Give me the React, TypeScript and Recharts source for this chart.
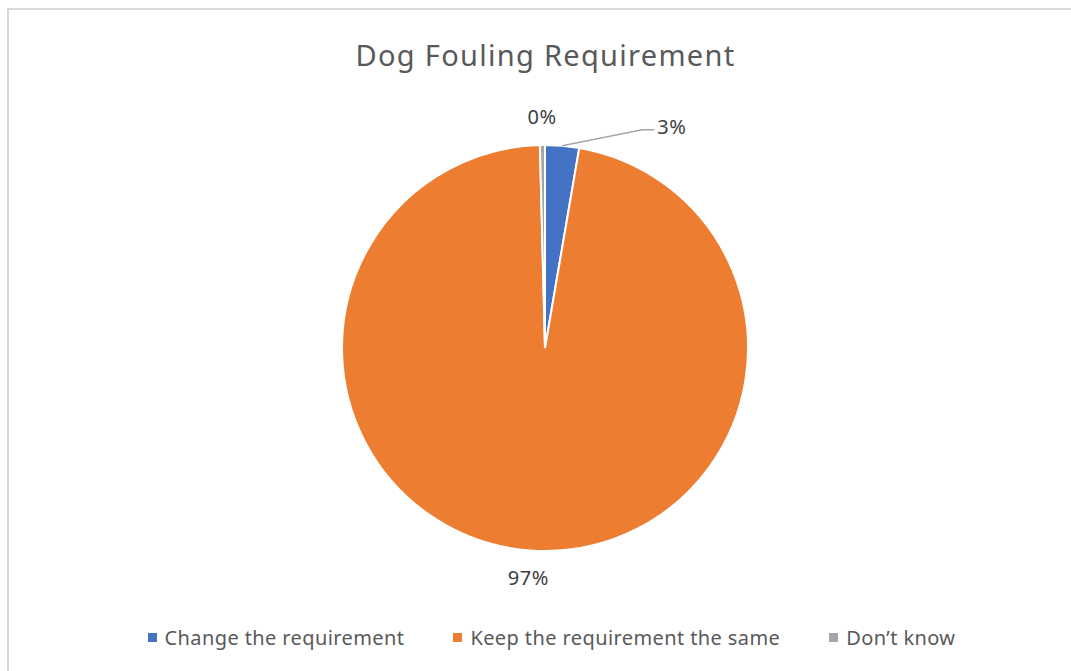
import { PieChart, Pie, Cell, Legend } from "recharts";

const categories = ["Change the requirement", "Keep the requirement the same", "Don’t know"];
const shares = [2.7, 96.9, 0.4];
const labels = ["3%", "97%", "0%"];
const COLORS = ["#4472C4", "#ED7D31", "#A5A5A5"];

const data = categories.map((name, i) => ({ name, value: shares[i], label: labels[i] }));

const FONT = "'Noto Sans', 'Open Sans', sans-serif";
const RAD = Math.PI / 180;

interface LabelProps {
  cx?: number;
  cy?: number;
  midAngle?: number;
  outerRadius?: number;
  index?: number;
}

function SliceLabel({ cx = 0, cy = 0, midAngle = 0, outerRadius = 0, index = 0 }: LabelProps) {
  const text = labels[index];
  const ax = cx + outerRadius * Math.cos(-midAngle * RAD);
  const ay = cy + outerRadius * Math.sin(-midAngle * RAD);
  if (index === 0) {
    // small slice: pulled out with a leader line, like Excel's best fit
    const bx = ax + 80;
    const by = ay - 16;
    return (
      <g>
        <polyline
          points={`${ax},${ay} ${bx},${by} ${bx + 12},${by}`}
          fill="none"
          stroke="#A6A6A6"
          strokeWidth={1.5}
        />
        <text x={bx + 15} y={by - 3} dy="0.35em" fontSize={20} letterSpacing={0.5} fill="#404040" fontFamily={FONT}>
          {text}
        </text>
      </g>
    );
  }
  const r = outerRadius + 28;
  const x = cx + r * Math.cos(-midAngle * RAD);
  const y = cy + r * Math.sin(-midAngle * RAD);
  return (
    <text x={x} y={y} dy="0.35em" textAnchor="middle" fontSize={20} letterSpacing={0.5} fill="#404040" fontFamily={FONT}>
      {text}
    </text>
  );
}

function LegendRow() {
  return (
    <div
      style={{
        display: "flex",
        justifyContent: "center",
        gap: 49,
        fontFamily: FONT,
        fontSize: 20,
        letterSpacing: 0.4,
        color: "#595959",
      }}
    >
      {categories.map((c, i) => (
        <div key={c} style={{ display: "flex", alignItems: "center" }}>
          <span style={{ width: 9, height: 9, background: COLORS[i], marginRight: 8 }} />
          <span>{c}</span>
        </div>
      ))}
    </div>
  );
}

export default function App() {
  return (
    <div style={{ position: "absolute", left: 0, top: 0, width: 1071, height: 671, background: "#fff", overflow: "hidden" }}>
      <div
        style={{
          position: "absolute",
          left: 7,
          top: 8,
          width: 1100,
          height: 700,
          border: "2px solid #D9D9D9",
        }}
      />
      <div
        style={{
          position: "absolute",
          left: 0,
          width: 1091,
          top: 35,
          textAlign: "center",
          fontFamily: FONT,
          fontSize: 29,
          letterSpacing: 1.3,
          color: "#595959",
        }}
      >
        Dog Fouling Requirement
      </div>
      <div style={{ position: "absolute", left: 0, top: 0 }}>
        <PieChart width={1071} height={671}>
          <Pie
            data={data}
            dataKey="value"
            nameKey="name"
            cx={540}
            cy={343}
            outerRadius={203}
            startAngle={90}
            endAngle={-270}
            stroke="#fff"
            strokeWidth={2}
            label={SliceLabel}
            labelLine={false}
            isAnimationActive={false}
          >
            {data.map((d, i) => (
              <Cell key={d.name} fill={COLORS[i]} />
            ))}
          </Pie>
          <Legend
            verticalAlign="bottom"
            content={<LegendRow />}
            wrapperStyle={{ bottom: 20, left: 6, width: 1091 }}
          />
        </PieChart>
      </div>
    </div>
  );
}
